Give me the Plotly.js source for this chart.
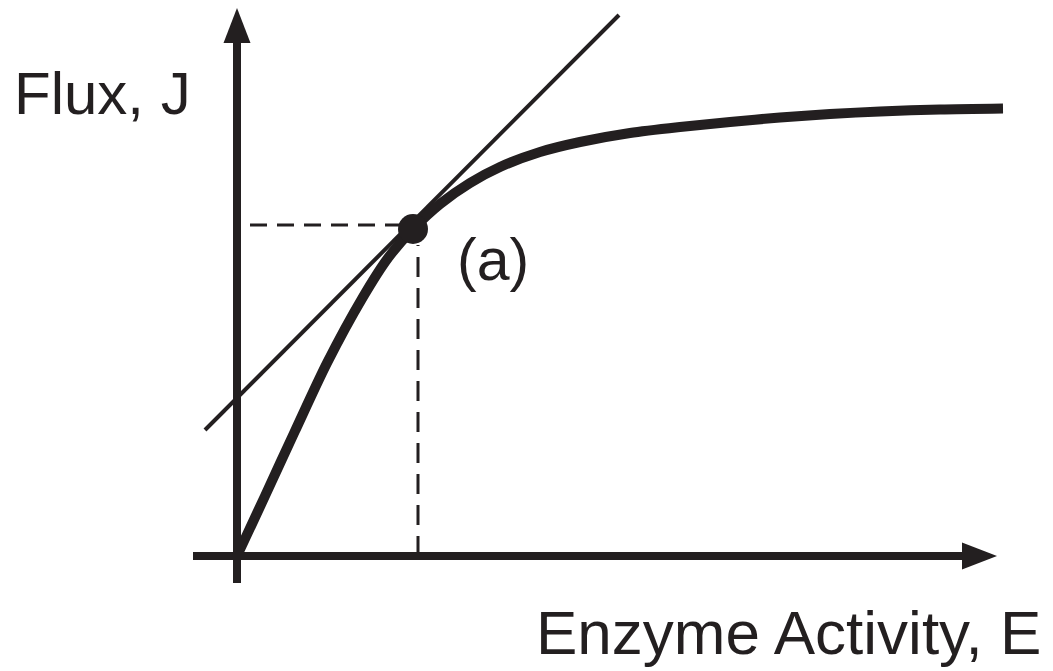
<!DOCTYPE html>
<html>
<head>
<meta charset="utf-8">
<script src="https://cdn.plot.ly/plotly-3.0.1.min.js"></script>
<style>html,body{margin:0;padding:0;background:#fff;}#chart{width:1053px;height:671px;}</style>
</head>
<body>
<div id="chart"></div>
<script>
// Flux response curve J(E) (arbitrary units)
const enzymeE = [0, 0.28, 0.58, 0.90, 1.26, 1.51, 1.76, 2.03, 2.33, 2.63, 3.03, 3.43, 3.93, 4.43, 4.93, 5.43, 5.93, 6.43, 7.03, 7.66];
const fluxJ   = [0, 0.60, 1.25, 1.93, 2.59, 2.98, 3.27, 3.52, 3.73, 3.89, 4.04, 4.14, 4.23, 4.29, 4.34, 4.385, 4.42, 4.445, 4.465, 4.475];
// operating point (a)
const pointE = [1.76];
const pointJ = [3.27];
// tangent at (a)
const tangentE = [-0.32, 3.82];
const tangentJ = [1.26, 5.41];
// guide lines
const guideHE = [0.13, 1.78];
const guideHJ = [3.31, 3.31];
const guideVE = [1.81, 1.81];
const guideVJ = [0, 3.11];
// axis extents
const xAxisFrom = -0.44, xAxisTo = 7.60;
const yAxisFrom = -0.27, yAxisTo = 5.48;
const labels = {x: "Enzyme Activity, E", y: "Flux, J", point: "(a)"};

const headLen = 0.35, headHalf = 0.135;
const black = "#231f20";
const traces = [
  {x: guideHE, y: guideHJ, mode: "lines", line: {color: black, width: 3, dash: "17px,10px"}, hoverinfo: "skip"},
  {x: guideVE, y: guideVJ, mode: "lines", line: {color: black, width: 3, dash: "20px,11px"}, hoverinfo: "skip"},
  {x: tangentE, y: tangentJ, mode: "lines", line: {color: black, width: 4}, hoverinfo: "skip"},
  {x: enzymeE, y: fluxJ, mode: "lines", line: {color: black, width: 10, shape: "spline", smoothing: 0.8}, hoverinfo: "skip"},
  {x: pointE, y: pointJ, mode: "markers", marker: {color: black, size: 30}, hoverinfo: "skip"}
];
const shapes = [
  {type: "line", xref: "x", yref: "y", x0: xAxisFrom, x1: xAxisTo - headLen + 0.02, y0: 0, y1: 0, line: {color: black, width: 8}},
  {type: "path", xref: "x", yref: "y", fillcolor: black, line: {width: 0},
   path: `M${xAxisTo - headLen},${-headHalf} L${xAxisTo},0 L${xAxisTo - headLen},${headHalf} Z`},
  {type: "line", xref: "x", yref: "y", x0: 0, x1: 0, y0: yAxisFrom, y1: yAxisTo - headLen + 0.02, line: {color: black, width: 8}},
  {type: "path", xref: "x", yref: "y", fillcolor: black, line: {width: 0},
   path: `M${-headHalf},${yAxisTo - headLen} L0,${yAxisTo} L${headHalf},${yAxisTo - headLen} Z`}
];
const font = {family: "Liberation Sans, Arial, Helvetica, sans-serif", color: black};
const annotations = [
  {text: labels.y, xref: "x", yref: "y", x: -2.25, y: 4.63, xanchor: "left", yanchor: "middle", showarrow: false, font: Object.assign({size: 60}, font)},
  {text: labels.x, xref: "x", yref: "y", x: 8.06, y: -0.765, xanchor: "right", yanchor: "middle", showarrow: false, font: Object.assign({size: 62}, font)},
  {text: labels.point, xref: "x", yref: "y", x: 2.56, y: 2.96, xanchor: "center", yanchor: "middle", showarrow: false, font: Object.assign({size: 59}, font)}
];
const layout = {
  width: 1053, height: 671,
  margin: {l: 0, r: 0, t: 0, b: 0},
  paper_bgcolor: "#fff", plot_bgcolor: "#fff",
  showlegend: false,
  xaxis: {range: [-2.37, 8.16], visible: false, fixedrange: true},
  yaxis: {range: [-1.15, 5.56], visible: false, fixedrange: true},
  shapes: shapes,
  annotations: annotations
};
Plotly.newPlot("chart", traces, layout, {displayModeBar: false, staticPlot: true});
</script>
</body>
</html>
